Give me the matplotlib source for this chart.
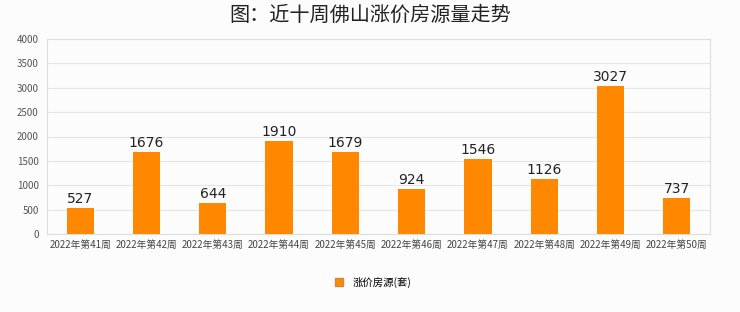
import matplotlib.pyplot as plt
from matplotlib.lines import Line2D

plt.rcParams['font.family'] = ['Noto Sans CJK SC', 'DejaVu Sans']

weeks = ["2022年第41周", "2022年第42周", "2022年第43周", "2022年第44周", "2022年第45周",
         "2022年第46周", "2022年第47周", "2022年第48周", "2022年第49周", "2022年第50周"]
counts = [527, 1676, 644, 1910, 1679, 924, 1546, 1126, 3027, 737]

fig = plt.figure(figsize=(7.4, 3.12), dpi=100, facecolor="#fcfcfc")
ax = fig.add_axes([0.0635, 0.25, 0.896, 0.625])
ax.set_facecolor("#fcfcfc")

x = range(len(weeks))
ax.bar(x, counts, width=0.41, color="#ff8800", zorder=3)
for xi, v in zip(x, counts):
    ax.text(xi, v + 40, str(v), ha="center", va="bottom", fontsize=10,
            color="#222222", family="DejaVu Sans", zorder=4)

ax.set_xlim(-0.5, len(weeks) - 0.5)
ax.set_ylim(0, 4000)
ax.set_yticks(range(0, 4001, 500))
ax.tick_params(axis="y", labelsize=7, labelcolor="#555555", length=0, pad=6)
ax.set_xticks(list(x))
ax.set_xticklabels(weeks)
ax.tick_params(axis="x", labelsize=7, labelcolor="#444444", length=0, pad=4)
ax.grid(axis="y", color="#e6e6e6", linewidth=0.8, zorder=0)
for s in ax.spines.values():
    s.set_color("#dddddd")
    s.set_linewidth(0.8)

fig.text(0.5, 0.95, "图：近十周佛山涨价房源量走势", ha="center", va="center",
         fontsize=14.5, fontweight="medium", color="#222222")

handle = Line2D([], [], marker="s", linestyle="none", markersize=6,
                markerfacecolor="#ff8800", markeredgecolor="#cc8844")
fig.legend([handle], ["涨价房源(套)"], loc="center", bbox_to_anchor=(0.5, 0.095),
           frameon=False, fontsize=7.5, handletextpad=0.3)

fig.savefig("out.png", dpi=100, facecolor=fig.get_facecolor())
